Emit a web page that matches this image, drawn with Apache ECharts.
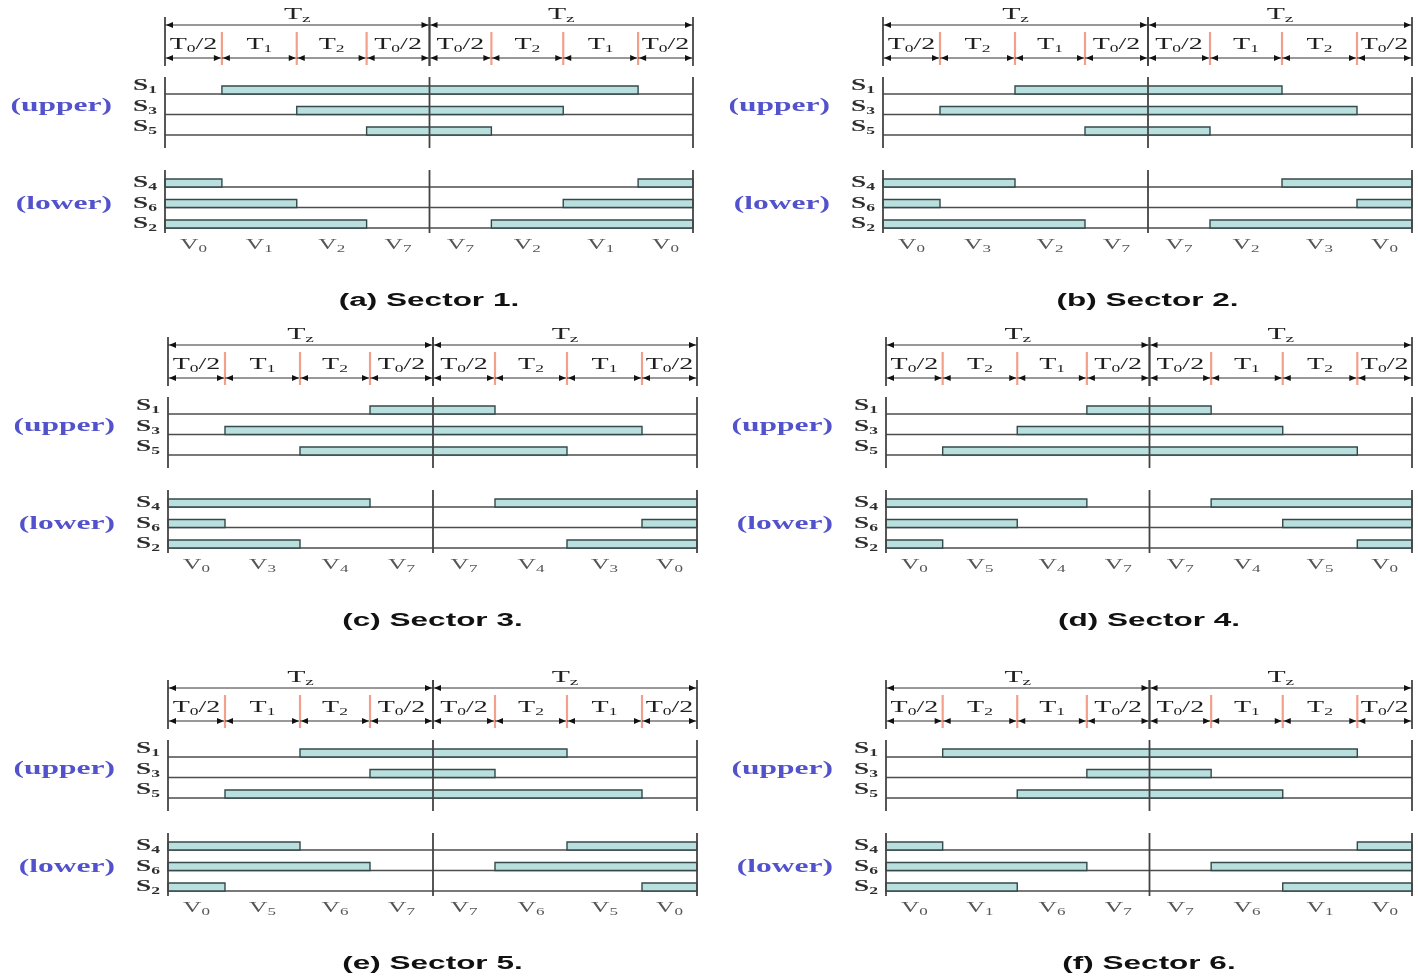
<!DOCTYPE html>
<html><head><meta charset="utf-8">
<script src="https://cdn.jsdelivr.net/npm/echarts@6/dist/echarts.min.js"></script>
<style>html,body{margin:0;padding:0;background:#fff}#c{width:1418px;height:977px}</style>
</head><body><div id="c"></div>
<script>
// ---- data ----
const segmentDurations = [57, 75, 70, 63, 62, 72, 75, 55]; // widths of the 8 sub-intervals
const captions = ['(a) Sector 1.', '(b) Sector 2.', '(c) Sector 3.', '(d) Sector 4.', '(e) Sector 5.', '(f) Sector 6.'];
const segLabelsOdd  = ['T0/2', 'T1', 'T2', 'T0/2', 'T0/2', 'T2', 'T1', 'T0/2'];
const segLabelsEven = ['T0/2', 'T2', 'T1', 'T0/2', 'T0/2', 'T1', 'T2', 'T0/2'];
const halfLabel = 'Tz';
const voltageLabels = [
  ['V0', 'V1', 'V2', 'V7', 'V7', 'V2', 'V1', 'V0'],
  ['V0', 'V3', 'V2', 'V7', 'V7', 'V2', 'V3', 'V0'],
  ['V0', 'V3', 'V4', 'V7', 'V7', 'V4', 'V3', 'V0'],
  ['V0', 'V5', 'V4', 'V7', 'V7', 'V4', 'V5', 'V0'],
  ['V0', 'V5', 'V6', 'V7', 'V7', 'V6', 'V5', 'V0'],
  ['V0', 'V1', 'V6', 'V7', 'V7', 'V6', 'V1', 'V0']
];
const upperSwitches = ['S1', 'S3', 'S5'];
const lowerSwitches = ['S4', 'S6', 'S2'];
// ON intervals given as [from boundary, to boundary] (boundaries 0..8)
const upperOn = [
  [[[1, 7]], [[2, 6]], [[3, 5]]],
  [[[2, 6]], [[1, 7]], [[3, 5]]],
  [[[3, 5]], [[1, 7]], [[2, 6]]],
  [[[3, 5]], [[2, 6]], [[1, 7]]],
  [[[2, 6]], [[3, 5]], [[1, 7]]],
  [[[1, 7]], [[3, 5]], [[2, 6]]]
];
const lowerOn = [
  [[[0, 1], [7, 8]], [[0, 2], [6, 8]], [[0, 3], [5, 8]]],
  [[[0, 2], [6, 8]], [[0, 1], [7, 8]], [[0, 3], [5, 8]]],
  [[[0, 3], [5, 8]], [[0, 1], [7, 8]], [[0, 2], [6, 8]]],
  [[[0, 3], [5, 8]], [[0, 2], [6, 8]], [[0, 1], [7, 8]]],
  [[[0, 2], [6, 8]], [[0, 3], [5, 8]], [[0, 1], [7, 8]]],
  [[[0, 1], [7, 8]], [[0, 3], [5, 8]], [[0, 2], [6, 8]]]
];

// ---- layout ----
const panelLeft = [165, 883, 168, 886, 168, 886];
const panelWidth = [528, 529, 529, 526, 529, 526];
const rowTz = [25, 345, 688];

const bounds = [0];
segmentDurations.forEach(d => bounds.push(bounds[bounds.length - 1] + d));
const total = bounds[bounds.length - 1];
const SX = 1.75;
const SERIF = "'Liberation Serif', 'Times New Roman', serif";
const SANS = "'Liberation Sans', Arial, sans-serif";

function textEl(x, y, label, o) {
  const fs = o.size, ss = Math.round(fs * 0.64);
  const m = label.match(/^([A-Za-z])([0-9z])(.*)$/);
  const text = m ? '{m|' + m[1] + '}{s|' + m[2] + '}' + (m[3] ? '{m|' + m[3] + '}' : '') : '{m|' + label + '}';
  const w = o.weight || 'normal';
  const rich = {
    m: { fontSize: fs, fontFamily: SERIF, fill: o.color, fontWeight: w },
    s: { fontSize: ss, fontFamily: SERIF, fill: o.color, fontWeight: w, padding: [Math.round(fs * 0.55), 0, 0, 0] }
  };
  return {
    type: 'text', x: x, y: y, scaleX: o.sx || SX,
    style: { text: text, rich: rich, align: o.align || 'center', verticalAlign: 'middle',
             fontSize: fs, fontFamily: SERIF, fill: o.color }
  };
}
function arrowPts(xTip, y, dir) {
  return [[xTip, y], [xTip - dir * 7, y - 3], [xTip - dir * 7, y + 3]];
}

function renderSegments(labels) {
  return function (params, api) {
    const cs = params.coordSys, i = params.dataIndex;
    const x0 = api.coord([api.value(0), 0])[0], x1 = api.coord([api.value(1), 0])[0];
    const yT = cs.y + 14, yD = yT + 33;
    const ch = [];
    if (i !== 0 && i !== 4) {
      ch.push({ type: 'line', shape: { x1: x0, y1: yT + 7, x2: x0, y2: yT + 40 }, style: { stroke: '#f2a08c', lineWidth: 2.2 } });
    }
    ch.push({ type: 'line', shape: { x1: x0, y1: yD, x2: x1, y2: yD }, style: { stroke: '#333', lineWidth: 1 } });
    ch.push({ type: 'polygon', shape: { points: arrowPts(x0 + 1, yD, -1) }, style: { fill: '#111' } });
    ch.push({ type: 'polygon', shape: { points: arrowPts(x1 - 1, yD, 1) }, style: { fill: '#111' } });
    ch.push(textEl((x0 + x1) / 2, yT + 19.5, labels[i], { size: 16, color: '#1e1e1e' }));
    return { type: 'group', children: ch };
  };
}
function renderTz(params, api) {
  const cs = params.coordSys;
  const x0 = api.coord([api.value(0), 0])[0], x1 = api.coord([api.value(1), 0])[0];
  const yT = cs.y + 14;
  return { type: 'group', children: [
    { type: 'line', shape: { x1: x0, y1: yT - 8, x2: x0, y2: yT + 41 }, style: { stroke: '#444', lineWidth: 1.8 } },
    { type: 'line', shape: { x1: x1, y1: yT - 8, x2: x1, y2: yT + 41 }, style: { stroke: '#444', lineWidth: 1.8 } },
    { type: 'line', shape: { x1: x0, y1: yT, x2: x1, y2: yT }, style: { stroke: '#333', lineWidth: 1 } },
    { type: 'polygon', shape: { points: arrowPts(x0 + 1, yT, -1) }, style: { fill: '#111' } },
    { type: 'polygon', shape: { points: arrowPts(x1 - 1, yT, 1) }, style: { fill: '#111' } },
    textEl((x0 + x1) / 2, yT - 10, halfLabel, { size: 17, color: '#222' })
  ] };
}
function renderRows(names, labelDy) {
  return function (params, api) {
    const cs = params.coordSys, r = params.dataIndex;
    const c = api.coord([0, r]);
    const bh = api.size([0, 1])[1];
    const yb = c[1] + bh / 2;
    const xR = api.coord([total, r])[0];
    return { type: 'group', children: [
      { type: 'line', shape: { x1: c[0], y1: yb, x2: xR, y2: yb }, style: { stroke: '#4d4d4d', lineWidth: 1.3 } },
      textEl(cs.x - 8, yb + labelDy, names[r], { size: 17, color: '#2e2e2e', align: 'right', weight: 'bold', sx: 1.6 })
    ] };
  };
}
function renderBars(params, api) {
  const r = api.value(2);
  const p0 = api.coord([api.value(0), r]), p1 = api.coord([api.value(1), r]);
  const bh = api.size([0, 1])[1];
  const yb = p0[1] + bh / 2;
  return { type: 'rect', shape: { x: p0[0], y: yb - 8, width: p1[0] - p0[0], height: 8 },
           style: { fill: '#b9e0df', stroke: '#34494a', lineWidth: 1.4 } };
}
function renderFrame(label, topOff, botOff, labelDy) {
  return function (params, api) {
    const cs = params.coordSys;
    const ch = [];
    [0, 4, 8].forEach(k => {
      const x = api.coord([bounds[k], 0])[0];
      ch.push({ type: 'line', shape: { x1: x, y1: cs.y + topOff, x2: x, y2: cs.y + cs.height + botOff },
                style: { stroke: '#444', lineWidth: 1.8 } });
    });
    ch.push({ type: 'text', x: cs.x - 53, y: cs.y + cs.height / 2 + labelDy, scaleX: SX,
              style: { text: label, fontSize: 18, fontWeight: 'bold', fontFamily: SERIF, fill: '#5252cc',
                       align: 'right', verticalAlign: 'middle' } });
    return { type: 'group', children: ch };
  };
}
function renderVolts(labels) {
  return function (params, api) {
    const cs = params.coordSys, i = params.dataIndex;
    const x0 = api.coord([api.value(0), 0])[0], x1 = api.coord([api.value(1), 0])[0];
    return textEl((x0 + x1) / 2, cs.y + cs.height + 17, labels[i], { size: 15, color: '#555', sx: 1.7 });
  };
}

const grid = [], xAxis = [], yAxis = [], series = [], graphic = [];
const segData = segmentDurations.map((d, i) => [bounds[i], bounds[i + 1]]);
for (let p = 0; p < 6; p++) {
  const L = panelLeft[p], W = panelWidth[p], tz = rowTz[Math.floor(p / 2)];
  const gT = grid.length, gU = gT + 1, gL = gT + 2;
  grid.push({ left: L, top: tz - 14, width: W, height: 54 });
  grid.push({ left: L, top: tz + 48.5, width: W, height: 61.5 });
  grid.push({ left: L, top: tz + 141.5, width: W, height: 61.5 });
  [gT, gU, gL].forEach(g => xAxis.push({ type: 'value', gridIndex: g, min: 0, max: total, show: false }));
  yAxis.push({ type: 'value', gridIndex: gT, min: 0, max: 1, show: false });
  yAxis.push({ type: 'category', gridIndex: gU, data: upperSwitches, inverse: true, show: false });
  yAxis.push({ type: 'category', gridIndex: gL, data: lowerSwitches, inverse: true, show: false });
  const segLabels = p % 2 === 0 ? segLabelsOdd : segLabelsEven;
  const common = { type: 'custom', silent: true, animation: false };
  series.push(Object.assign({}, common, { xAxisIndex: gT, yAxisIndex: gT, z: 3, data: segData, renderItem: renderSegments(segLabels) }));
  series.push(Object.assign({}, common, { xAxisIndex: gT, yAxisIndex: gT, z: 4, data: [[bounds[0], bounds[4]], [bounds[4], bounds[8]]], renderItem: renderTz }));
  const build = (on) => { const out = []; on.forEach((row, r) => row.forEach(iv => out.push([bounds[iv[0]], bounds[iv[1]], r]))); return out; };
  [[gU, upperSwitches, upperOn[p], '(upper)', 3.5, 13, 2, -8], [gL, lowerSwitches, lowerOn[p], '(lower)', 3.5, 5, 7, -4]].forEach(cfg => {
    const [g, names, on, lab, tOff, bOff, lDy, sDy] = cfg;
    series.push(Object.assign({}, common, { xAxisIndex: g, yAxisIndex: g, z: 2, encode: { x: 0, y: 1 }, data: names.map((n, i) => [0, i]), renderItem: renderRows(names, sDy) }));
    series.push(Object.assign({}, common, { xAxisIndex: g, yAxisIndex: g, z: 3, encode: { x: [0, 1], y: 2 }, data: build(on), renderItem: renderBars }));
    series.push(Object.assign({}, common, { xAxisIndex: g, yAxisIndex: g, z: 4, encode: { x: 0, y: 1 }, data: [[0, 0]], renderItem: renderFrame(lab, tOff, bOff, lDy) }));
  });
  series.push(Object.assign({}, common, { xAxisIndex: gL, yAxisIndex: gL, z: 4, encode: { x: [0, 1] }, data: segData, renderItem: renderVolts(voltageLabels[p]) }));
  graphic.push({ type: 'text', x: L + W / 2, y: tz + 276, scaleX: SX,
                 style: { text: captions[p], fontSize: 18, fontWeight: 'bold', fontFamily: SANS, fill: '#111',
                          align: 'center', verticalAlign: 'middle', textAlign: 'center', textVerticalAlign: 'middle' } });
}

const chart = echarts.init(document.getElementById('c'), null, { renderer: 'canvas' });
chart.setOption({ backgroundColor: '#fff', animation: false, grid, xAxis, yAxis, series, graphic });
</script></body></html>
